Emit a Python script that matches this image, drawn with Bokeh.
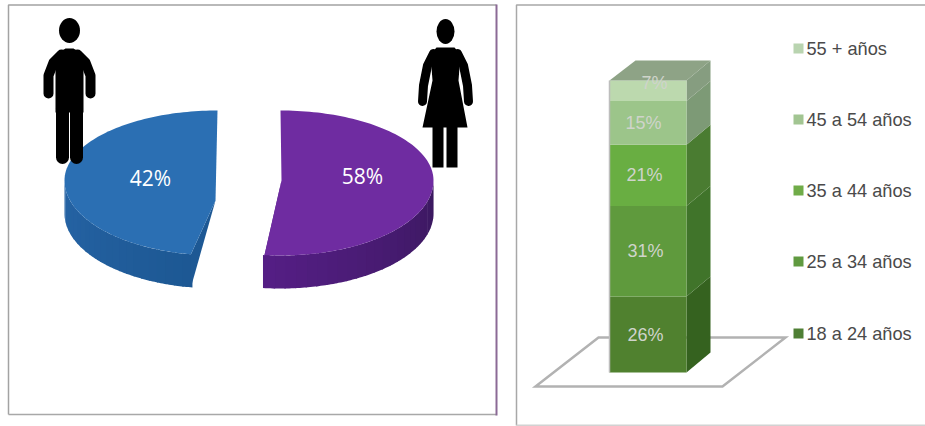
import numpy as np
from bokeh.embed import file_html
from bokeh.models import Range1d
from bokeh.plotting import figure
from bokeh.resources import INLINE

# Gender split
gender_labels = ["42%", "58%"]
gender_shares = [42, 58]

# Age split, bottom to top of the column
age_groups = ["18 a 24 años", "25 a 34 años", "35 a 44 años", "45 a 54 años", "55 + años"]
age_shares = [26, 31, 21, 15, 7]

W, H = 925, 426
p = figure(width=W, height=H, x_range=Range1d(0, W), y_range=Range1d(H, 0),
           output_backend="svg", toolbar_location=None, min_border=0)
p.axis.visible = False
p.grid.visible = False
p.outline_line_color = None
p.background_fill_color = "white"
p.border_fill_color = "white"


def shade(c0, c1, n):
    a, b = np.array(c0, float), np.array(c1, float)
    return ["#%02x%02x%02x" % tuple(int(round(v)) for v in a + (b - a) * i / max(n - 1, 1))
            for i in range(n)]


# Panel frames
p.line([8, 8, 496], [414, 4.5, 4.5], line_color="#a3a3a3", line_width=1.5)
p.line([8, 496], [414, 414], line_color="#a8a8a8", line_width=1.5)
p.line([496, 496], [4, 415], line_color="#8b6a96", line_width=2)
p.line([925, 516, 516], [4.5, 4.5, 425], line_color="#a8a8a8", line_width=1.5)
p.line([516, 925], [425, 425], line_color="#d2d2d2", line_width=2)

# Exploded 3D pie wedges: the sweep leans away from a half turn with each share
RX, RY_BACK, RY_FRONT, DEPTH = 153, 70, 75, 33


def rim(cx, cy, sign, t):
    ry = np.where(np.cos(t) >= 0, RY_BACK, RY_FRONT)
    return cx + sign * RX * np.sin(t), cy - ry * np.cos(t)


def wedge(share, cx, cy, apex, sign, top, wall_a, wall_b, bend):
    sweep = np.radians(180 + (share - 50) * bend)
    t = np.linspace(0, sweep, 120)
    xs, ys = rim(cx, cy, sign, t)
    # Outer wall, painted as thin shaded strips from the side round to the front
    edges = np.linspace(np.radians(90), sweep, 25)
    cols = shade(wall_a, wall_b, len(edges) - 1)
    for i, col in enumerate(cols):
        ts = np.linspace(edges[i], edges[i + 1] + 0.01, 6)
        ex, ey = rim(cx, cy, sign, ts)
        p.patch(np.r_[ex, ex[::-1]], np.r_[ey, ey[::-1] + DEPTH], fill_color=col, line_color=None)
    # Cut face below the wedge tip
    p.patch([apex[0], xs[-1], xs[-1]], [apex[1], ys[-1], ys[-1] + DEPTH],
            fill_color=wall_b, line_color=None)
    # Top face
    p.patch(np.r_[xs, apex[0]], np.r_[ys, apex[1]], fill_color=top, line_color=None)


wedge(gender_shares[0], 217, 180, (215, 200), -1, "#2b6fb3",
      (38, 100, 165), (29, 88, 148), 1.25)
wedge(gender_shares[1], 280, 180, (281, 180), 1, "#6f2ca1",
      (58, 24, 94), (84, 30, 132), 0.75)

gx = [150, 362]
gy = [177, 175]
p.text(gx, gy, text=gender_labels, text_color="white", text_font_size="21px",
       text_font={"value": "Open Sans"}, text_align="center", text_baseline="middle")

# Man pictogram
p.ellipse([69], [30], width=21, height=25, fill_color="black", line_color=None)
p.patch([55, 60, 65, 73, 78, 83, 83, 55], [60, 51, 48, 48, 51, 60, 112, 112],
        fill_color="black", line_color=None)
p.multi_line([[61, 53, 48, 48], [77, 85, 90, 90]], [[54, 62, 75, 93], [54, 62, 75, 93]],
             line_color="black", line_width=10, line_cap="round", line_join="round")
p.multi_line([[62, 62], [76, 76]], [[108, 157], [108, 157]],
             line_color="black", line_width=13, line_cap="round")

# Woman pictogram
p.ellipse([445], [31], width=18, height=25, fill_color="black", line_color=None)
p.patch([436, 454, 460, 458, 467, 422, 432, 430], [47, 47, 54, 80, 127, 127, 80, 54],
        fill_color="black", line_color=None)
p.multi_line([[433, 427, 423, 422], [457, 463, 467, 468]], [[53, 65, 85, 101], [53, 65, 85, 101]],
             line_color="black", line_width=9, line_cap="round", line_join="round")
p.patch([432, 443, 443, 432], [125, 125, 167, 167], fill_color="black", line_color=None)
p.patch([446, 457, 457, 446], [125, 125, 167, 167], fill_color="black", line_color=None)

# Floor of the column chart
p.patch([598, 785, 722, 535], [337, 337, 386, 386], fill_color=None,
        line_color="#b2b2b2", line_width=2.5, line_join="miter")

# Stacked 3D column
X0, X1, BASE, PX_PER_PCT, DX, DY = 609, 686, 372, 2.92, 24, 20
front_cols = ["#50812f", "#5f9a3d", "#69ae42", "#9cc58a", "#bcd9ae"]
side_cols = ["#35621f", "#40742a", "#4a7c31", "#7d9a76", "#869d80"]
legend_cols = ["#4f7f34", "#609a40", "#70ac48", "#a2c592", "#b9d4b0"]
bottoms = BASE - PX_PER_PCT * np.r_[0, np.cumsum(age_shares)[:-1]]
tops = bottoms - PX_PER_PCT * np.array(age_shares)
for b, t, fc, sc in zip(bottoms, tops, front_cols, side_cols):
    p.patch([X1, X1 + DX, X1 + DX, X1], [b, b - DY, t - DY, t], fill_color=sc, line_color=None)
    p.patch([X0, X1, X1, X0], [b, b, t, t], fill_color=fc, line_color=None)
p.patch([X0, X1, X1 + DX, X0 + DX + 2], [tops[-1], tops[-1], tops[-1] - DY, tops[-1] - DY],
        fill_color="#8ea386", line_color=None)
p.line([X0, X0], [BASE, tops[-1]], line_color="#bdbdbd", line_width=1.5)

label_x = [645, 645, 644, 643, 654]
label_y = (bottoms + tops) / 2
label_y[-1] -= 8
p.text(label_x, label_y, text=[f"{v}%" for v in age_shares], text_color="#cfd4cb",
       text_font_size="18px", text_font={"value": "Liberation Sans"},
       text_align="center", text_baseline="middle")

# Legend, oldest group on top
leg_y = [333, 261, 190, 119, 48]
p.scatter([798] * 5, leg_y, marker="square", size=10, fill_color=legend_cols, line_color=None)
p.text([806] * 5, leg_y, text=age_groups, text_color="#4a4a4a", text_font_size="18.2px",
       text_font={"value": "Liberation Sans"}, text_align="left", text_baseline="middle")

open("out.html", "w").write(file_html(p, INLINE))
